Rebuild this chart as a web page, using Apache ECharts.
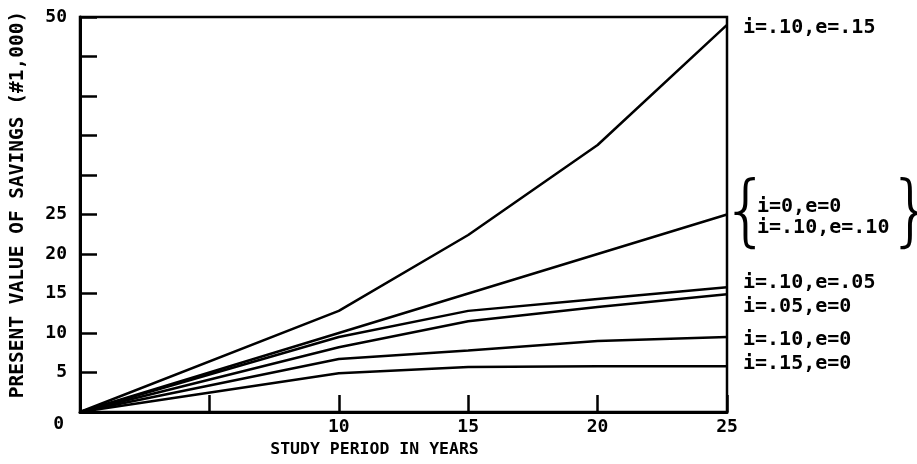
<!DOCTYPE html>
<html>
<head>
<meta charset="utf-8">
<script src="https://cdn.jsdelivr.net/npm/echarts@6/dist/echarts.min.js"></script>
<style>html,body{margin:0;padding:0;background:#fff}#c{width:917px;height:464px}</style>
</head>
<body>
<div id="c"></div>
<script>
// Study period (years)
const years = [0, 10, 15, 20, 25];
// Present value of savings ($1,000)
const s_i10_e15 = [0, 12.8, 22.4, 33.8, 49.0];
const s_i0_e0   = [0, 10.0, 15.0, 20.0, 25.0];
const s_i10_e05 = [0, 9.5, 12.8, 14.3, 15.8];
const s_i05_e0  = [0, 8.2, 11.5, 13.3, 14.9];
const s_i10_e0  = [0, 6.7, 7.8, 9.0, 9.5];
const s_i15_e0  = [0, 4.9, 5.7, 5.8, 5.8];
// Tick labels
const xTickLabels = [10, 15, 20, 25];
const yTickLabels = [0, 5, 10, 15, 20, 25, 50];

const FONT = 'DejaVu Sans Mono';
const zip = a => years.map((x, i) => [x, a[i]]);

function mk(name, data, label, offset, extra) {
  return Object.assign({
    name: name,
    type: 'line',
    data: zip(data),
    showSymbol: false,
    symbol: 'none',
    smooth: false,
    silent: true,
    lineStyle: { color: '#000', width: 2.5 },
    itemStyle: { color: '#000' },
    endLabel: {
      show: true,
      formatter: label,
      distance: 16,
      offset: offset,
      color: '#000',
      fontFamily: FONT,
      fontWeight: 'bold',
      fontSize: 20,
      lineHeight: 21,
      align: 'left'
    },
    z: 3
  }, extra || {});
}

const chart = echarts.init(document.getElementById('c'), null, { renderer: 'canvas' });
chart.setOption({
  animation: false,
  backgroundColor: '#fff',
  grid: {
    left: 79, right: 190, top: 17, bottom: 52,
    show: true, borderColor: '#000', borderWidth: 2.5, backgroundColor: 'transparent'
  },
  xAxis: {
    type: 'value', min: 0, max: 25, interval: 5,
    name: 'STUDY PERIOD IN YEARS',
    nameLocation: 'middle', nameGap: 27,
    nameTextStyle: { color: '#000', fontFamily: FONT, fontWeight: 'bold', fontSize: 16.5, padding: [0, 58, 0, 0], verticalAlign: 'top' },
    axisLine: { show: true, lineStyle: { color: '#000', width: 3 } },
    axisTick: { show: true, inside: true, length: 17, lineStyle: { color: '#000', width: 2.5 } },
    axisLabel: {
      color: '#000', fontFamily: FONT, fontWeight: 'bold', fontSize: 18, margin: 6,
      formatter: v => xTickLabels.includes(v) ? String(v) : ''
    },
    splitLine: { show: false }
  },
  yAxis: {
    type: 'value', min: 0, max: 50, interval: 5,
    name: 'PRESENT VALUE OF SAVINGS (#1,000)',
    nameLocation: 'middle', nameGap: 52, nameRotate: 90,
    nameTextStyle: { color: '#000', fontFamily: FONT, fontWeight: 'bold', fontSize: 19.5, padding: [0, 0, 0, 20] },
    axisLine: { show: true, lineStyle: { color: '#000', width: 3 } },
    axisTick: { show: true, inside: true, length: 17, lineStyle: { color: '#000', width: 2.5 } },
    axisLabel: {
      color: '#000', fontFamily: FONT, fontWeight: 'bold', fontSize: 18, margin: 13,
      formatter: v => yTickLabels.includes(v) ? (v === 0 ? '{z|0}' : String(v)) : '',
      rich: { z: { fontFamily: FONT, fontWeight: 'bold', fontSize: 18, color: '#000', padding: [24, 3, 0, 0] } }
    },
    splitLine: { show: false }
  },
  series: [
    mk('i=.10,e=.15', s_i10_e15, 'i=.10,e=.15', [0, 3]),
    mk('i=0,e=0 / i=.10,e=.10', s_i0_e0, 'i=0,e=0\ni=.10,e=.10', [14, 3], {
      markPoint: {
        symbol: 'circle', symbolSize: 0, silent: true,
        data: [
          { coord: [25, 25], label: { show: true, formatter: '{', offset: [19, 2] } },
          { coord: [25, 25], label: { show: true, formatter: '}', offset: [185, 2] } }
        ],
        label: { position: 'inside', color: '#000', fontFamily: 'DejaVu Sans', fontSize: 78, fontWeight: 200 }
      }
    }),
    mk('i=.10,e=.05', s_i10_e05, 'i=.10,e=.05', [0, -4]),
    mk('i=.05,e=0', s_i05_e0, 'i=.05,e=0', [0, 13]),
    mk('i=.10,e=0', s_i10_e0, 'i=.10,e=0', [0, 3]),
    mk('i=.15,e=0', s_i15_e0, 'i=.15,e=0', [0, -2])
  ]
});
</script>
</body>
</html>
